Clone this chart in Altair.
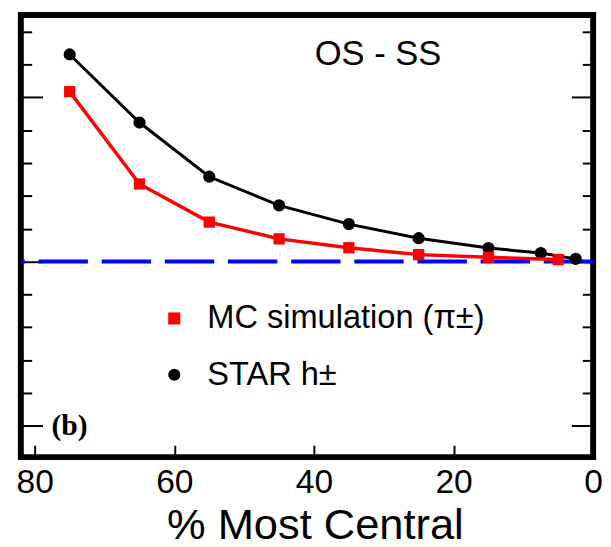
import altair as alt
import pandas as pd

# ---- data (y in arbitrary units; one minor y tick = 1 unit) ----
star_x = [75, 65, 55, 45, 35, 25, 15, 7.5, 2.5]
star_y = [6.30, 4.23, 2.58, 1.71, 1.14, 0.71, 0.41, 0.26, 0.08]
mc_x = [75, 65, 55, 45, 35, 25, 15, 5]
mc_y = [5.17, 2.36, 1.20, 0.69, 0.42, 0.21, 0.13, 0.06]
series_names = ["MC simulation (π±)", "STAR h±"]
x_ticks = [80, 60, 40, 20, 0]
y_ticks = list(range(-5, 8))
zero_line = [0]
annot_text = ["OS - SS"]
panel_text = ["(b)"]

star = pd.DataFrame({"x": star_x, "y": star_y, "series": series_names[1]})
mc = pd.DataFrame({"x": mc_x, "y": mc_y, "series": series_names[0]})
zero_df = pd.DataFrame({"y": zero_line})
annot_df = pd.DataFrame({"t": annot_text})
panel_df = pd.DataFrame({"t": panel_text})

FONT = "Liberation Sans"
xs = alt.Scale(domain=[0, 82], reverse=True, nice=False, zero=False)
ys = alt.Scale(domain=[-5.95, 7.5], nice=False, zero=False)

x_axis = alt.Axis(
    orient="bottom", values=x_ticks, format="d", domain=False, grid=False,
    tickSize={"expr": "-12"}, tickWidth=2, tickColor="black",
    labelFont=FONT, labelFontSize=34, labelColor="black", labelPadding=20.5,
    labelFlush=False, labelOverlap=False, labelBound=False,
    title="% Most Central", titleFont=FONT, titleFontSize=44,
    titleFontWeight="normal", titleColor="black", titleX=298, titleY=82,
    titleBaseline="alphabetic", titleAlign="center",
)
tick_expr = {"expr": "datum.value % 5 === 0 ? -22 : -11"}
yl_axis = alt.Axis(orient="left", values=y_ticks, labels=False, domain=False,
                   grid=False, title=None, tickSize=tick_expr, tickWidth=2,
                   tickColor="black")
yr_axis = alt.Axis(orient="right", values=y_ticks, labels=False, domain=False,
                   grid=False, title=None, tickSize=tick_expr, tickWidth=2,
                   tickColor="black")

legend = alt.Legend(title=None, orient="none", legendX=139, legendY=291,
                    labelFont=FONT, labelFontSize=33, labelColor="black",
                    labelLimit=0,
                    symbolSize=150, symbolStrokeWidth=0, rowPadding=23,
                    labelOffset=17, padding=0)
color = alt.Color("series:N", scale=alt.Scale(domain=series_names,
                                              range=["#ff0000", "#000000"]),
                  legend=legend)
shape = alt.Shape("series:N", scale=alt.Scale(domain=series_names,
                                              range=["square", "circle"]),
                  legend=legend)

zero_rule = alt.Chart(zero_df).mark_rule(
    color="#0000ff", strokeWidth=4, strokeDash=[50, 14]
).encode(y=alt.Y("y:Q", scale=ys, axis=None))

star_line = alt.Chart(star).mark_line(color="black", strokeWidth=3).encode(
    x=alt.X("x:Q", scale=xs, axis=x_axis),
    y=alt.Y("y:Q", scale=ys, axis=yl_axis),
)
star_pts = alt.Chart(star).mark_point(filled=True, size=154, opacity=1).encode(
    x=alt.X("x:Q", scale=xs, axis=None),
    y=alt.Y("y:Q", scale=ys, axis=None),
    color=color, shape=shape,
)
mc_line = alt.Chart(mc).mark_line(color="#ff0000", strokeWidth=3.5).encode(
    x=alt.X("x:Q", scale=xs, axis=None),
    y=alt.Y("y:Q", scale=ys, axis=yr_axis),
)
mc_pts = alt.Chart(mc).mark_point(filled=True, size=130, opacity=1).encode(
    x=alt.X("x:Q", scale=xs, axis=None),
    y=alt.Y("y:Q", scale=ys, axis=None),
    color=color, shape=shape,
)

os_label = alt.Chart(annot_df).mark_text(
    font=FONT, fontSize=35, color="black", align="center", baseline="alphabetic"
).encode(text="t:N", x=alt.value(362), y=alt.value(51))

panel_label = alt.Chart(panel_df).mark_text(
    font="Liberation Serif", fontWeight="bold", fontSize=30, color="black",
    align="left", baseline="alphabetic"
).encode(text="t:N", x=alt.value(31), y=alt.value(426))

chart = alt.layer(
    zero_rule, star_line, star_pts, mc_line, mc_pts, os_label, panel_label
).resolve_scale(y="shared", x="shared").resolve_axis(
    y="independent", x="independent"
).properties(
    width=580, height=448,
    autosize=alt.AutoSizeParams(type="none"),
    padding={"left": 13, "top": 3.5, "right": 10, "bottom": 90},
    background="white",
).configure_view(stroke="black", strokeWidth=6)

chart.save("out.html", embed_options={"renderer": "svg", "actions": False})
